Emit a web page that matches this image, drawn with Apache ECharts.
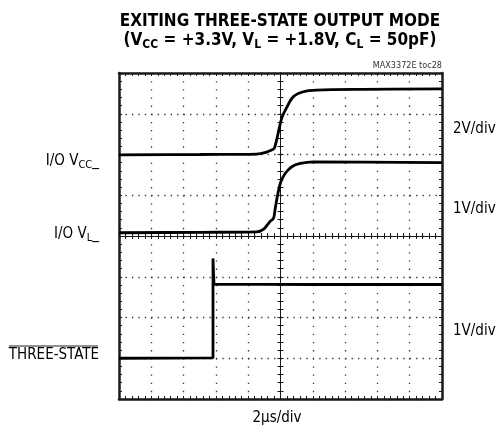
<!DOCTYPE html>
<html>
<head>
<meta charset="utf-8">
<script src="https://cdn.jsdelivr.net/npm/echarts@6/dist/echarts.min.js"></script>
<style>
html, body { margin: 0; padding: 0; background: #fff; }
#chart { width: 497px; height: 429px; }
</style>
</head>
<body>
<div id="chart"></div>
<script>
// time in divisions (2us/div), 0 = screen centre; level in divisions, 0 = centre
var ioVccTrace = [[-5, 1.99], [-2.5, 2.0], [-0.74, 2.01], [-0.43, 2.06], [-0.22, 2.13], [-0.17, 2.2],
    [-0.07, 2.53], [0.04, 2.9], [0.19, 3.15], [0.4, 3.42], [0.71, 3.54], [1.12, 3.58], [2.5, 3.6], [5, 3.61]];
var ioVlTrace = [[-5, 0.08], [-2.5, 0.09], [-0.74, 0.1], [-0.53, 0.16], [-0.33, 0.35], [-0.22, 0.43],
    [-0.17, 0.64], [-0.1, 0.96], [0.01, 1.33], [0.15, 1.54], [0.35, 1.7], [0.61, 1.78], [1.02, 1.82], [5, 1.8]];
var threeStateTrace = [[-5, -3.0], [-2.09, -2.99], [-2.09, -0.55], [-2.06, -1.18], [1, -1.19], [5, -1.19]];

var chLabels = ['I/O V', 'I/O V', 'THREE-STATE'];
var scaleLabels = ['2V/div', '1V/div', '1V/div'];
var timeLabel = '2\u00b5s/div';

var FONT = "'Liberation Sans Narrow', 'DejaVu Sans Condensed', 'Roboto', sans-serif";

var chart = echarts.init(document.getElementById('chart'));

function xAx(pos, onZero, border) {
    return {
        type: 'value', min: -5, max: 5, interval: 1, position: pos,
        axisLine: { show: true, onZero: onZero, onZeroAxisIndex: 0,
            lineStyle: { color: '#1a1a1a', width: border ? 2.5 : 1 } },
        axisTick: { show: true, inside: true, length: 3, lineStyle: { color: '#1a1a1a' } },
        minorTick: { show: true, splitNumber: 5, length: 3, lineStyle: { color: '#1a1a1a' } },
        axisLabel: { show: false },
        splitLine: { show: pos === 'bottom' && onZero,
            lineStyle: { color: '#333', width: 1.3, type: [1.3, 6.85] } }
    };
}
function yAx(pos, onZero, border) {
    return {
        type: 'value', min: -4, max: 4, interval: 1, position: pos,
        axisLine: { show: true, onZero: onZero, onZeroAxisIndex: 0,
            lineStyle: { color: '#1a1a1a', width: border ? 2.5 : 1 } },
        axisTick: { show: true, inside: true, length: 3, lineStyle: { color: '#1a1a1a' } },
        minorTick: { show: true, splitNumber: 5, length: 3, lineStyle: { color: '#1a1a1a' } },
        axisLabel: { show: false },
        splitLine: { show: pos === 'left' && onZero,
            lineStyle: { color: '#333', width: 1.3, type: [1.3, 5.16] } }
    };
}

function trace(data, smooth) {
    return {
        type: 'line', xAxisIndex: 0, yAxisIndex: 0, data: data,
        showSymbol: false, silent: true, smooth: smooth,
        lineStyle: { color: '#000', width: 2.8 }
    };
}

var labelRich = {
    a: { fontFamily: FONT, fontSize: 15, color: '#222', lineHeight: 16 },
    s: { fontFamily: FONT, fontSize: 11, color: '#222', lineHeight: 11, padding: [9, 0, 0, 0] }
};
var titleRich = {
    a: { fontFamily: FONT, fontSize: 17, fontWeight: 'bold', color: '#000', lineHeight: 18 },
    s: { fontFamily: FONT, fontSize: 12, fontWeight: 'bold', color: '#000', lineHeight: 12, padding: [8, 0, 0, 0] }
};

function txt(x, y, text, align, rich) {
    return { type: 'text', x: x, y: y, silent: true,
        style: { text: text, rich: rich, align: align, verticalAlign: 'middle' } };
}

chart.setOption({
    animation: false,
    grid: { left: 119, top: 73, width: 323, height: 326, show: false },
    xAxis: [xAx('bottom', true, false), xAx('top', true, false), xAx('bottom', false, true), xAx('top', false, true)],
    yAxis: [yAx('left', true, false), yAx('right', true, false), yAx('left', false, true), yAx('right', false, true)],
    series: [trace(ioVccTrace, 0.35), trace(ioVlTrace, 0.35), trace(threeStateTrace, false)],
    graphic: [
        txt(280, 22, '{a|EXITING THREE-STATE OUTPUT MODE}', 'center', titleRich),
        txt(280, 41, '{a|(V}{s|CC}{a| = +3.3V, V}{s|L}{a| = +1.8V, C}{s|L}{a| = 50pF)}', 'center', titleRich),
        { type: 'text', x: 442, y: 66, silent: true,
          style: { text: 'MAX3372E toc28', fontFamily: FONT, fontSize: 9, fill: '#333', align: 'right', verticalAlign: 'middle' } },
        txt(99, 161, '{a|' + chLabels[0] + '}{s|CC}{a|_}', 'right', labelRich),
        txt(99, 234, '{a|' + chLabels[1] + '}{s|L}{a|_}', 'right', labelRich),
        txt(99, 355, '{a|' + chLabels[2] + '}', 'right', labelRich),
        { type: 'line', silent: true, shape: { x1: 9, y1: 346, x2: 98, y2: 346 },
          style: { stroke: '#222', lineWidth: 1 } },
        txt(453, 129, '{a|' + scaleLabels[0] + '}', 'left', labelRich),
        txt(453, 209, '{a|' + scaleLabels[1] + '}', 'left', labelRich),
        txt(453, 331, '{a|' + scaleLabels[2] + '}', 'left', labelRich),
        txt(277, 418, '{a|' + timeLabel + '}', 'center', labelRich)
    ]
});
</script>
</body>
</html>
